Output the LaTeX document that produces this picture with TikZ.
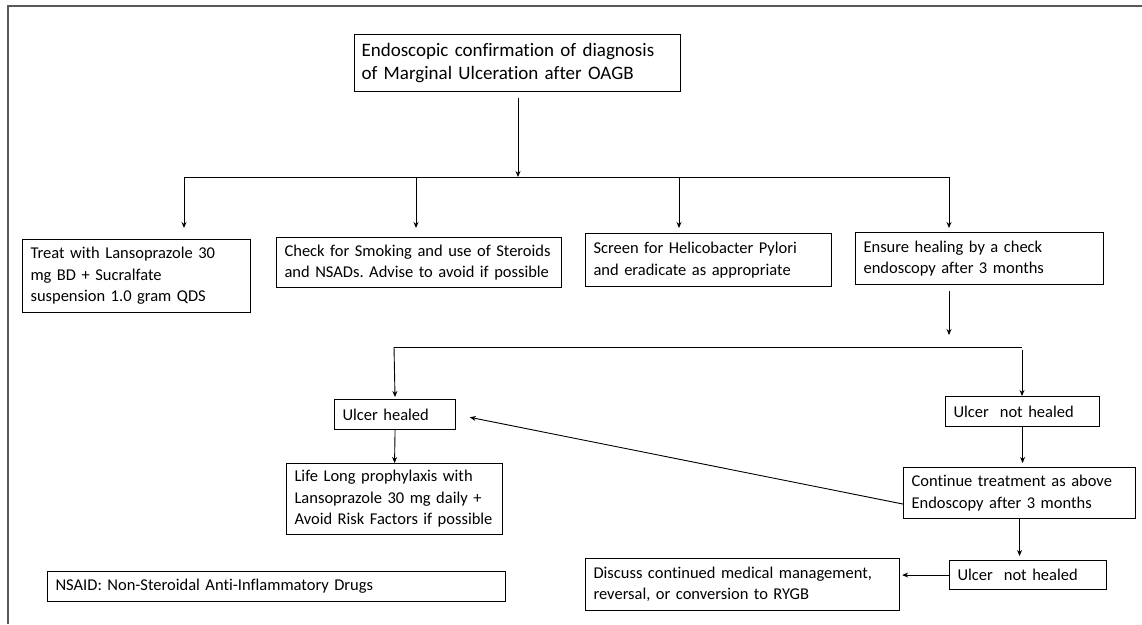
\documentclass[tikz,border=0pt]{standalone}
\usepackage{fontspec}
\setmainfont{Carlito}[Ligatures=NoCommon]
\frenchspacing
\usetikzlibrary{arrows.meta,calc}
\tikzset{
  box/.style={draw, line width=1.1pt, align=left, anchor=north west,
    inner xsep=8pt, inner ysep=2pt, font=\fontsize{16.5}{21.5}\selectfont},
  arr/.style={line width=0.9pt, -{Stealth[length=6pt,width=5pt]}},
  link/.style={line width=0.9pt}
}
\begin{document}
\begin{tikzpicture}[x=1pt, y=-1pt]
  \useasboundingbox (0,0) rectangle (1142,624);
  % frame
  \draw[line width=1.4pt, black!65] (8,624) -- (8,6) -- (1142,6);
  % boxes
  \node[box, text width=312pt, minimum height=57pt, inner xsep=7pt,
    font=\fontsize{19}{23}\selectfont] (diag) at (354,34)
    {Endoscopic confirmation of diagnosis\\of Marginal Ulceration after OAGB};
  \node[box, text width=212pt, minimum height=73pt] (treat) at (22,239)
    {Treat with Lansoprazole 30\\mg BD + Sucralfate\\suspension 1.0 gram QDS};
  \node[box, text width=269pt, minimum height=50pt] (smoke) at (276,237)
    {Check for Smoking and use of Steroids\\and NSADs. Advise to avoid if possible};
  \node[box, text width=230pt, minimum height=53pt] (pylori) at (585,233)
    {Screen for Helicobacter Pylori\\and eradicate as appropriate};
  \node[box, text width=232pt, minimum height=52pt] (check) at (855,232)
    {Ensure healing by a check\\endoscopy after 3 months};
  \node[box, text width=105pt, minimum height=30pt] (healed) at (334,399)
    {Ulcer healed};
  \node[box, text width=200pt, minimum height=71pt] (life) at (286,463)
    {Life Long prophylaxis with\\Lansoprazole 30 mg daily +\\Avoid Risk Factors if possible};
  \node[box, text width=442pt, minimum height=30pt] (nsaid) at (47,571)
    {NSAID: Non-Steroidal Anti-Inflammatory Drugs};
  \node[box, text width=138pt, minimum height=30pt] (open) at (945,396)
    {Ulcer\ \ not healed};
  \node[box, text width=216pt, minimum height=51pt] (cont) at (903,467)
    {Continue treatment as above\\Endoscopy after 3 months};
  \node[box, text width=141pt, minimum height=29pt] (still) at (949,560)
    {Ulcer\ \ not healed};
  \node[box, text width=298pt, minimum height=52pt] (discuss) at (585,558)
    {Discuss continued medical management,\\reversal, or conversion to RYGB};
  % first split
  \coordinate (split) at (518,177);
  \coordinate (s1) at (184,177);
  \coordinate (s2) at (416,177);
  \coordinate (s3) at (679,177);
  \coordinate (s4) at (949,177);
  \draw[arr, shorten <=6pt] (diag.south -| split) -- (split);
  \draw[link] (s1) -- (s4);
  \draw[arr, shorten >=11pt] (s1) -- (s1 |- treat.north);
  \draw[arr, shorten >=9pt] (s2) -- (s2 |- smoke.north);
  \draw[arr, shorten >=5pt] (s3) -- (s3 |- pylori.north);
  \draw[arr, shorten >=4pt] (s4) -- (s4 |- check.north);
  % second split
  \coordinate (r0) at (949,335);
  \coordinate (r1) at (394,347);
  \coordinate (r2) at (1022,347);
  \draw[arr, shorten <=6pt] (check.south -| r0) -- (r0);
  \draw[link] (r1) -- (r2);
  \draw[arr, shorten >=2pt] (r1) -- (healed.north);
  \draw[arr, shorten <=3pt] (r2) -- (r2 |- open.north);
  % follow-up
  \draw[arr] (healed.south) -- (life.north);
  \draw[arr, shorten >=4pt] (open.south) -- (open.south |- cont.north);
  \draw[arr, shorten >=4pt] (cont.south) -- (cont.south |- still.north);
  \draw[arr, shorten >=14pt] ($(cont.west)+(0,11)$) -- (healed.east);
  \draw[arr, shorten >=2pt] (still.west) -- (still.west -| discuss.east);
\end{tikzpicture}
\end{document}
